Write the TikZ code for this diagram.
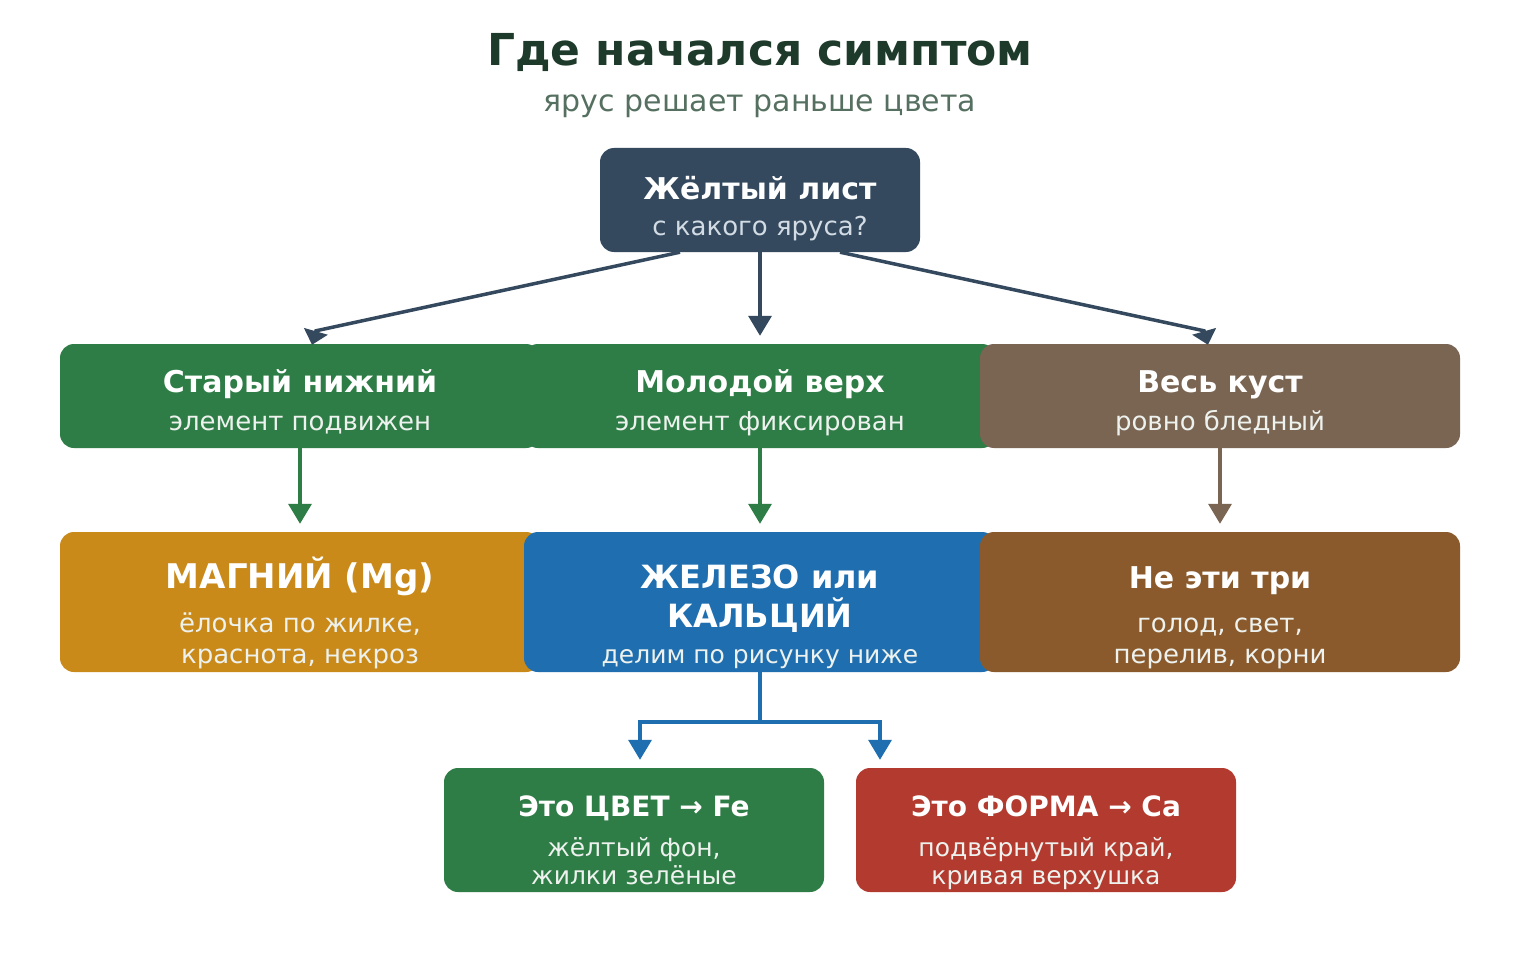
\documentclass[tikz,border=0pt]{standalone}
\usepackage{fontspec}
\setmainfont{DejaVu Sans}
\usetikzlibrary{arrows.meta}
\definecolor{ctitle}{HTML}{1E3A2B}
\definecolor{csub}{HTML}{557060}
\definecolor{ctop}{HTML}{34495E}
\definecolor{ctopsub}{HTML}{D3DCE5}
\definecolor{cgreen}{HTML}{2E7D46}
\definecolor{cbrown}{HTML}{7A6452}
\definecolor{corange}{HTML}{C98A1A}
\definecolor{cblue}{HTML}{1F6FB0}
\definecolor{cdbrown}{HTML}{8A5A2C}
\definecolor{cred}{HTML}{B33A2E}
\definecolor{clight}{HTML}{EEF2EE}
\tikzset{
  box/.style={rounded corners=14pt, inner sep=0pt, draw=none},
  ttl/.style={anchor=base, text=white, font=\bfseries\fontsize{30}{36}\selectfont, inner sep=0pt},
  sub/.style={anchor=base, text=clight, font=\fontsize{26}{30}\selectfont, inner sep=0pt},
  conn/.style={line width=3.5pt, -{Triangle[length=20pt,width=23pt]}},
  dconn/.style={line width=3.5pt, -{Triangle[length=14pt,width=24pt]}},
}
\begin{document}
\begin{tikzpicture}[x=1pt,y=-1pt]
\useasboundingbox (0,0) rectangle (1520,960);
\fill[white] (0,0) rectangle (1520,960);
% title
\node[anchor=base, text=ctitle, font=\bfseries\fontsize{44}{52}\selectfont, inner sep=0pt] (title) at (760,66) {Где начался симптом};
\node[anchor=base, text=csub, font=\fontsize{30}{36}\selectfont, inner sep=0pt] (subtitle) at (760,112) {ярус решает раньше цвета};
% top box
\node[box, fill=ctop, minimum width=320pt, minimum height=104pt] (top) at (760,200) {};
\node[ttl] (topt) at (760,200) {Жёлтый лист};
\node[sub, text=ctopsub] (tops) at (760,236) {с какого яруса?};
% row 1
\node[box, fill=cgreen, minimum width=480pt, minimum height=104pt] (old) at (300,396) {};
\node[box, fill=cgreen, minimum width=472pt, minimum height=104pt] (young) at (760,396) {};
\node[box, fill=cbrown, minimum width=480pt, minimum height=104pt] (bush) at (1220,396) {};
\node[ttl] (oldt) at (300,392) {Старый нижний};
\node[sub] (olds) at (300,430) {элемент подвижен};
\node[ttl] (youngt) at (760,392) {Молодой верх};
\node[sub] (youngs) at (760,430) {элемент фиксирован};
\node[ttl] (busht) at (1220,392) {Весь куст};
\node[sub] (bushs) at (1220,430) {ровно бледный};
% row 2
\node[box, fill=corange, minimum width=480pt, minimum height=140pt] (mg) at (300,602) {};
\node[box, fill=cblue, minimum width=472pt, minimum height=140pt] (iron) at (760,602) {};
\node[box, fill=cdbrown, minimum width=480pt, minimum height=140pt] (other) at (1220,602) {};
\node[ttl, font=\bfseries\fontsize{34}{40}\selectfont] (mgt) at (300,588) {МАГНИЙ (Mg)};
\node[sub] (mgs1) at (300,632) {ёлочка по жилке,};
\node[sub] (mgs2) at (300,663) {краснота, некроз};
\node[ttl, font=\bfseries\fontsize{32}{38}\selectfont] (iront1) at (760,588) {ЖЕЛЕЗО или};
\node[ttl, font=\bfseries\fontsize{32}{38}\selectfont] (iront2) at (760,627) {КАЛЬЦИЙ};
\node[sub, font=\fontsize{25}{30}\selectfont] (irons) at (760,663) {делим по рисунку ниже};
\node[ttl] (othert) at (1220,588) {Не эти три};
\node[sub] (others1) at (1220,632) {голод, свет,};
\node[sub] (others2) at (1220,663) {перелив, корни};
% row 3
\node[box, fill=cgreen, minimum width=380pt, minimum height=124pt] (fe) at (634,830) {};
\node[box, fill=cred, minimum width=380pt, minimum height=124pt] (ca) at (1046,830) {};
\node[ttl, font=\bfseries\fontsize{28}{34}\selectfont] (fet) at (634,816) {Это ЦВЕТ → Fe};
\node[sub, font=\fontsize{25}{30}\selectfont] (fes1) at (634,856) {жёлтый фон,};
\node[sub, font=\fontsize{25}{30}\selectfont] (fes2) at (634,884) {жилки зелёные};
\node[ttl, font=\bfseries\fontsize{28}{34}\selectfont] (cat) at (1046,816) {Это ФОРМА → Ca};
\node[sub, font=\fontsize{25}{30}\selectfont] (cas1) at (1046,856) {подвёрнутый край,};
\node[sub, font=\fontsize{25}{30}\selectfont] (cas2) at (1046,884) {кривая верхушка};
% connectors
\draw[dconn, ctop] ([xshift=-80pt]top.south) -- ([xshift=16pt,yshift=13pt]old.north) -- ([xshift=12pt,yshift=-1pt]old.north);
\draw[conn, ctop] (top.south) -- ([yshift=8pt]young.north);
\draw[dconn, ctop] ([xshift=80pt]top.south) -- ([xshift=-16pt,yshift=13pt]bush.north) -- ([xshift=-12pt,yshift=-1pt]bush.north);
\draw[conn, cgreen] (old.south) -- ([yshift=8pt]mg.north);
\draw[conn, cgreen] (young.south) -- ([yshift=8pt]iron.north);
\draw[conn, cbrown] (bush.south) -- ([yshift=8pt]other.north);
\coordinate (split) at (760,722);
\draw[line width=3.5pt, cblue] (iron.south) -- (split);
\draw[conn, cblue] (split) -| ([xshift=6pt,yshift=8pt]fe.north);
\draw[conn, cblue] (split) -| ([xshift=-166pt,yshift=8pt]ca.north);
\end{tikzpicture}
\end{document}
